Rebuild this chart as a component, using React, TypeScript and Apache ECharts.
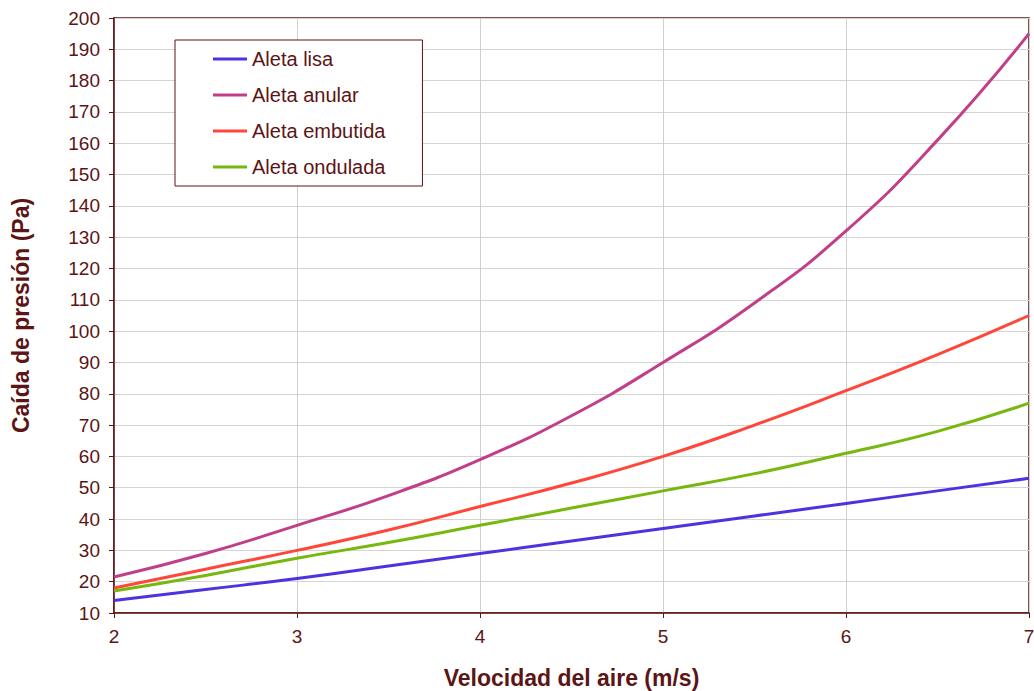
import React, { useEffect, useRef } from "react";
import * as echarts from "echarts";

const velocidades = [2, 2.5, 3, 3.5, 4, 4.5, 5, 5.5, 6, 6.5, 7];
const aletaLisa = [14, 17.5, 21, 25, 29, 33, 37, 41, 45, 49, 53];
const aletaAnular = [21.5, 29, 38, 47.5, 59, 73, 90, 109, 132, 161, 195];
const aletaEmbutida = [18, 24, 30, 36.5, 44, 51.5, 60, 70, 81, 92.5, 105];
const aletaOndulada = [17, 22, 27.5, 32.5, 38, 43.5, 49, 54.5, 61, 68, 77];

const seriesNames = ["Aleta lisa", "Aleta anular", "Aleta embutida", "Aleta ondulada"];
const seriesValues = [aletaLisa, aletaAnular, aletaEmbutida, aletaOndulada];
const seriesColors = ["#4b34e0", "#c13f89", "#ff4638", "#76b80e"];

const textColor = "#5c1414";
const font = "'Liberation Sans', Arial, sans-serif";

export default function App() {
  const ref = useRef<HTMLDivElement>(null);
  useEffect(() => {
    if (!ref.current) return;
    const chart = echarts.init(ref.current, undefined, { renderer: "svg" });
    chart.setOption({
      animation: false,
      backgroundColor: "#ffffff",
      textStyle: { fontFamily: font },
      grid: {
        left: 114, right: 5, top: 18, bottom: 78,
        outerBoundsMode: "none",
        containLabel: false,
        show: true, borderColor: textColor, borderWidth: 1.5, backgroundColor: "transparent",
      },
      xAxis: {
        type: "value",
        min: 2,
        max: 7,
        interval: 1,
        name: "Velocidad del aire (m/s)",
        nameLocation: "middle",
        nameGap: 53,
        nameTextStyle: { color: textColor, fontSize: 23, fontWeight: "bold", fontFamily: font },
        axisLine: { onZero: false, lineStyle: { color: textColor, width: 1.5 } },
        axisTick: { show: true, inside: false, length: 5, lineStyle: { color: textColor } },
        axisLabel: { color: textColor, fontSize: 19, margin: 14, fontFamily: font },
        splitLine: { show: true, lineStyle: { color: "#cfcfcf", width: 1 } },
      },
      yAxis: {
        type: "value",
        min: 10,
        max: 200,
        interval: 10,
        name: "Caída de presión (Pa)",
        nameLocation: "middle",
        nameGap: 82,
        nameTextStyle: { color: textColor, fontSize: 23, fontWeight: "bold", fontFamily: font },
        axisLine: { show: true, lineStyle: { color: textColor, width: 1.5 } },
        axisTick: { show: true, inside: false, length: 5, lineStyle: { color: textColor } },
        axisLabel: { color: textColor, fontSize: 19, margin: 14, fontFamily: font },
        splitLine: { show: true, lineStyle: { color: "#d4d4d4", width: 1 } },
      },
      legend: {
        orient: "vertical",
        left: 175,
        top: 40,
        backgroundColor: "#ffffff",
        borderColor: textColor,
        borderWidth: 1,
        padding: [9, 37, 9, 38],
        itemGap: 16,
        itemWidth: 34,
        itemHeight: 3,
        icon: "rect",
        textStyle: { color: textColor, fontSize: 20, fontFamily: font, padding: [0, 0, 0, 0] },
        data: seriesNames,
      },
      series: seriesNames.map((name, i) => ({
        name,
        type: "line",
        smooth: true,
        showSymbol: false,
        symbol: "none",
        data: velocidades.map((x, j) => [x, seriesValues[i][j]]),
        lineStyle: { color: seriesColors[i], width: 3 },
        itemStyle: { color: seriesColors[i] },
      })),
    });
    return () => chart.dispose();
  }, []);
  return <div ref={ref} style={{ position: "fixed", left: 0, top: 0, width: 1034, height: 691 }} />;
}
